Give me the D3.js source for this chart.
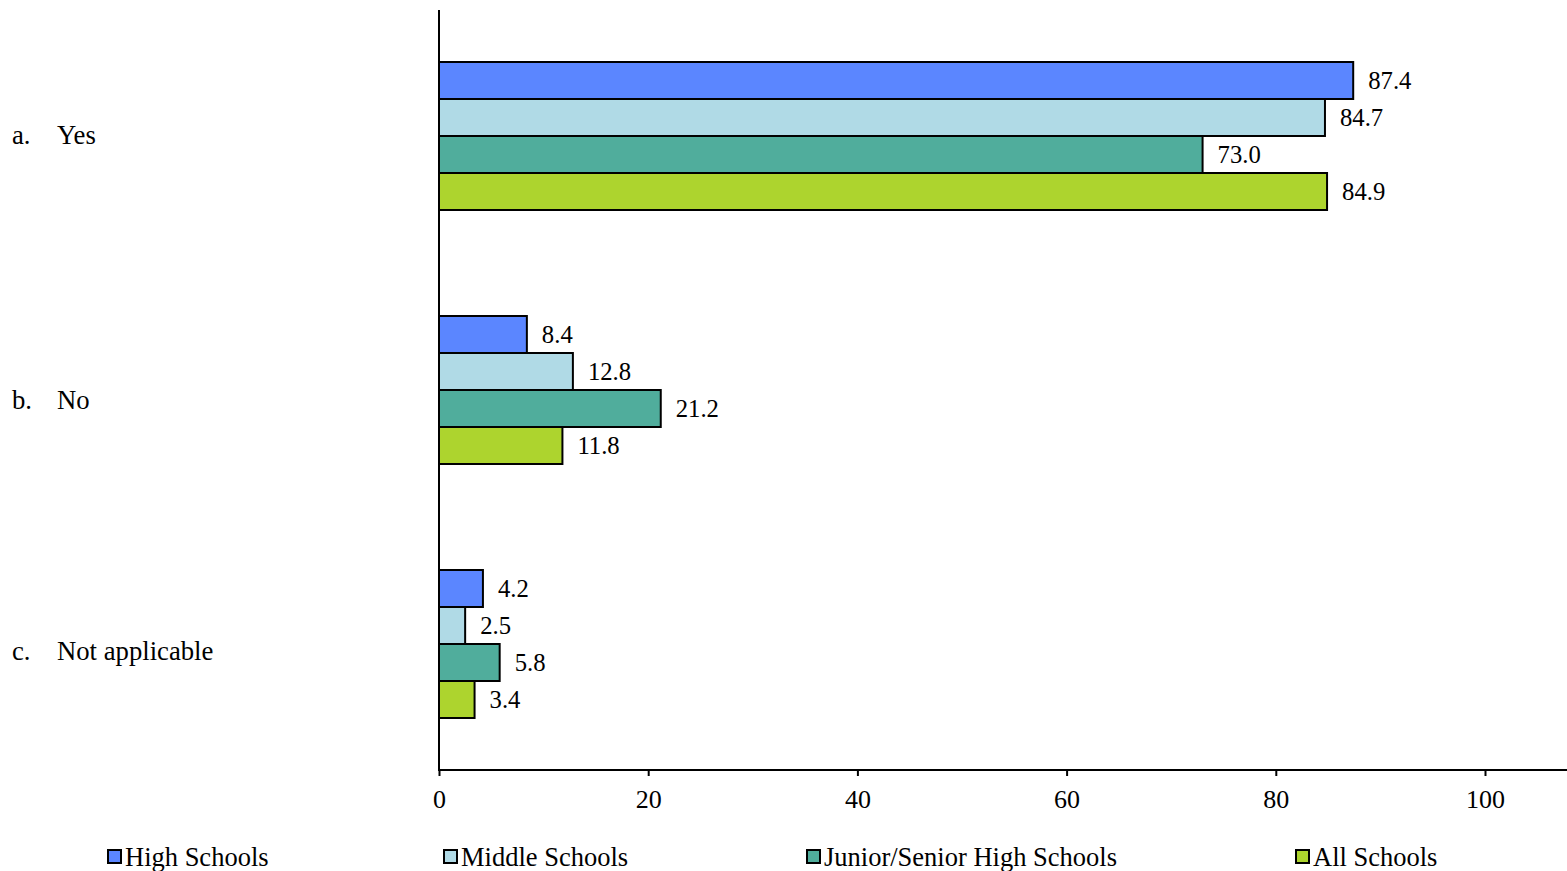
<!DOCTYPE html>
<html><head><meta charset="utf-8">
<script src="https://cdn.jsdelivr.net/npm/d3@7"></script>
<style>body{margin:0;background:#fff}svg{display:block}text{font-family:"Liberation Serif","Times New Roman",serif;fill:#000}</style>
</head><body>
<svg id="c" width="1567" height="871"></svg>
<script>
const categories = ["Yes", "No", "Not applicable"];
const catPrefixes = ["a.", "b.", "c."];
const seriesNames = ["High Schools", "Middle Schools", "Junior/Senior High Schools", "All Schools"];
const highSchools = [87.4, 8.4, 4.2];
const middleSchools = [84.7, 12.8, 2.5];
const juniorSenior = [73.0, 21.2, 5.8];
const allSchools = [84.9, 11.8, 3.4];
const tickValues = [0, 20, 40, 60, 80, 100];
const colors = ["#5B86FF", "#B0DAE6", "#50AD9C", "#ADD42E"];

const seriesValues = [highSchools, middleSchools, juniorSenior, allSchools];
const labelShift = [-1, 10, 7];
const svg = d3.select("#c");

const x = d3.scaleLinear().domain([0, 100]).range([439, 1485]);
const y = d3.scaleBand().domain(categories).range([8.5, 770.5]);
const ySub = d3.scaleBand().domain(seriesNames).range([53.5, 201.5]);

// bars
categories.forEach((cat, ci) => {
  const g = svg.append("g").attr("transform", `translate(0,${y(cat)})`);
  seriesNames.forEach((s, si) => {
    const v = seriesValues[si][ci];
    g.append("rect")
      .attr("x", x(0)).attr("y", ySub(s))
      .attr("width", x(v) - x(0)).attr("height", ySub.bandwidth())
      .attr("fill", colors[si]).attr("stroke", "#000").attr("stroke-width", 2);
    g.append("text")
      .attr("x", x(v) + 15).attr("y", ySub(s) + ySub.bandwidth() / 2)
      .attr("dy", "0.35em").attr("font-size", 24.7)
      .text(v.toFixed(1));
  });
  const ly = y(cat) + y.bandwidth() / 2 + labelShift[ci];
  svg.append("text").attr("x", 12).attr("y", ly).attr("dy", "0.35em")
    .attr("font-size", 26.7).text(catPrefixes[ci]);
  svg.append("text").attr("x", 57).attr("y", ly).attr("dy", "0.35em")
    .attr("font-size", 26.7).text(cat);
});

// axes
const xAxis = d3.axisBottom(x).tickValues(tickValues).tickSize(6).tickPadding(14).tickFormat(d3.format("d"));
const ax = svg.append("g").attr("transform", "translate(0,770)").call(xAxis);
ax.select(".domain").remove();
ax.selectAll(".tick line").attr("stroke", "#000").attr("stroke-width", 2);
ax.selectAll(".tick text").attr("font-size", 26).attr("fill", "#000");
svg.append("line").attr("x1", x(0)).attr("x2", 1567).attr("y1", 770).attr("y2", 770).attr("stroke", "#000").attr("stroke-width", 2);
svg.append("line").attr("x1", x(0)).attr("x2", x(0)).attr("y1", 10).attr("y2", 771).attr("stroke", "#000").attr("stroke-width", 2);

// legend
const legendX = [107, 443, 806, 1295];
seriesNames.forEach((s, i) => {
  const lg = svg.append("g").attr("transform", `translate(${legendX[i]},857)`);
  lg.append("rect").attr("x", 1).attr("y", -7).attr("width", 13).attr("height", 13)
    .attr("fill", colors[i]).attr("stroke", "#000").attr("stroke-width", 2);
  lg.append("text").attr("x", 18).attr("y", 0).attr("dy", "0.35em").attr("font-size", 26.5).text(s);
});
</script>
</body></html>
